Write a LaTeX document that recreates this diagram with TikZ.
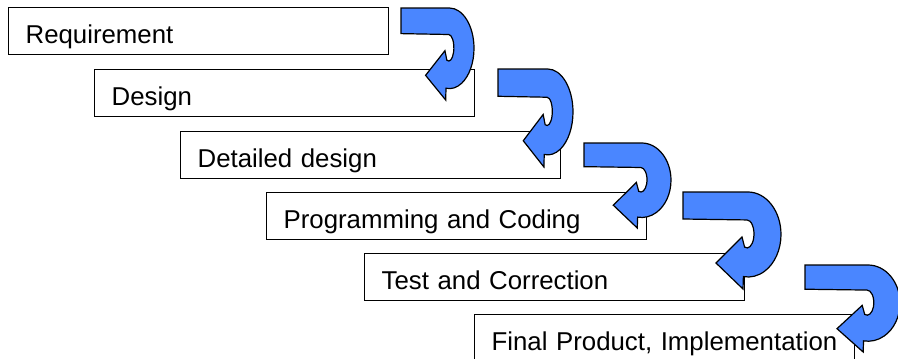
\documentclass[tikz,border=0pt]{standalone}
\usepackage{fontspec}
\setmainfont{Liberation Sans}
\definecolor{arrowblue}{RGB}{74,134,255}
\tikzset{
  stagebox/.style={draw=black, line width=1.3pt, fill=white, anchor=north west,
    inner xsep=17pt, inner ysep=11pt, text height=25pt, text depth=0pt,
    text width=346pt, align=left, font=\fontsize{25.8}{30}\selectfont},
  uturn/.style={fill=arrowblue, draw=black, line width=1.2pt, line join=miter},
}
\newcommand{\uturnpath}{(0,0) -- (65,0) arc[start angle=90, end angle=-98, x radius=33, y radius=42.5] -- (60,-97) -- (33,-71) -- (59,-45) -- (61.6,-55.1) arc[start angle=-110, end angle=90, x radius=7, y radius=14] -- (0,-27) -- cycle}
\begin{document}
\begin{tikzpicture}[x=1pt,y=1pt]
\useasboundingbox (0,0) rectangle (898,-359);
\node[stagebox] (b1) at (8,-7) {Requirement};
\node[stagebox] (b2) at (94,-69) {Design};
\node[stagebox] (b3) at (180,-131) {Detailed design};
\node[stagebox] (b4) at (266,-192) {Programming and Coding};
\node[stagebox] (b5) at (364,-253) {Test and Correction};
\node[stagebox] (b6) at (474,-314) {Final Product, Implementation};
\foreach \L/\T/\W/\H in {401/8/73/92, 498/69/75/98, 584/143/87/85, 683/192/98/97, 805/265/95/87}{
  \pgfmathsetmacro{\sx}{\W/98}
  \pgfmathsetmacro{\sy}{\H/97}
  \begin{scope}[shift={(\L,-\T)}, xscale=\sx, yscale=\sy]
    \path[uturn] \uturnpath;
  \end{scope}
}
\end{tikzpicture}
\end{document}
